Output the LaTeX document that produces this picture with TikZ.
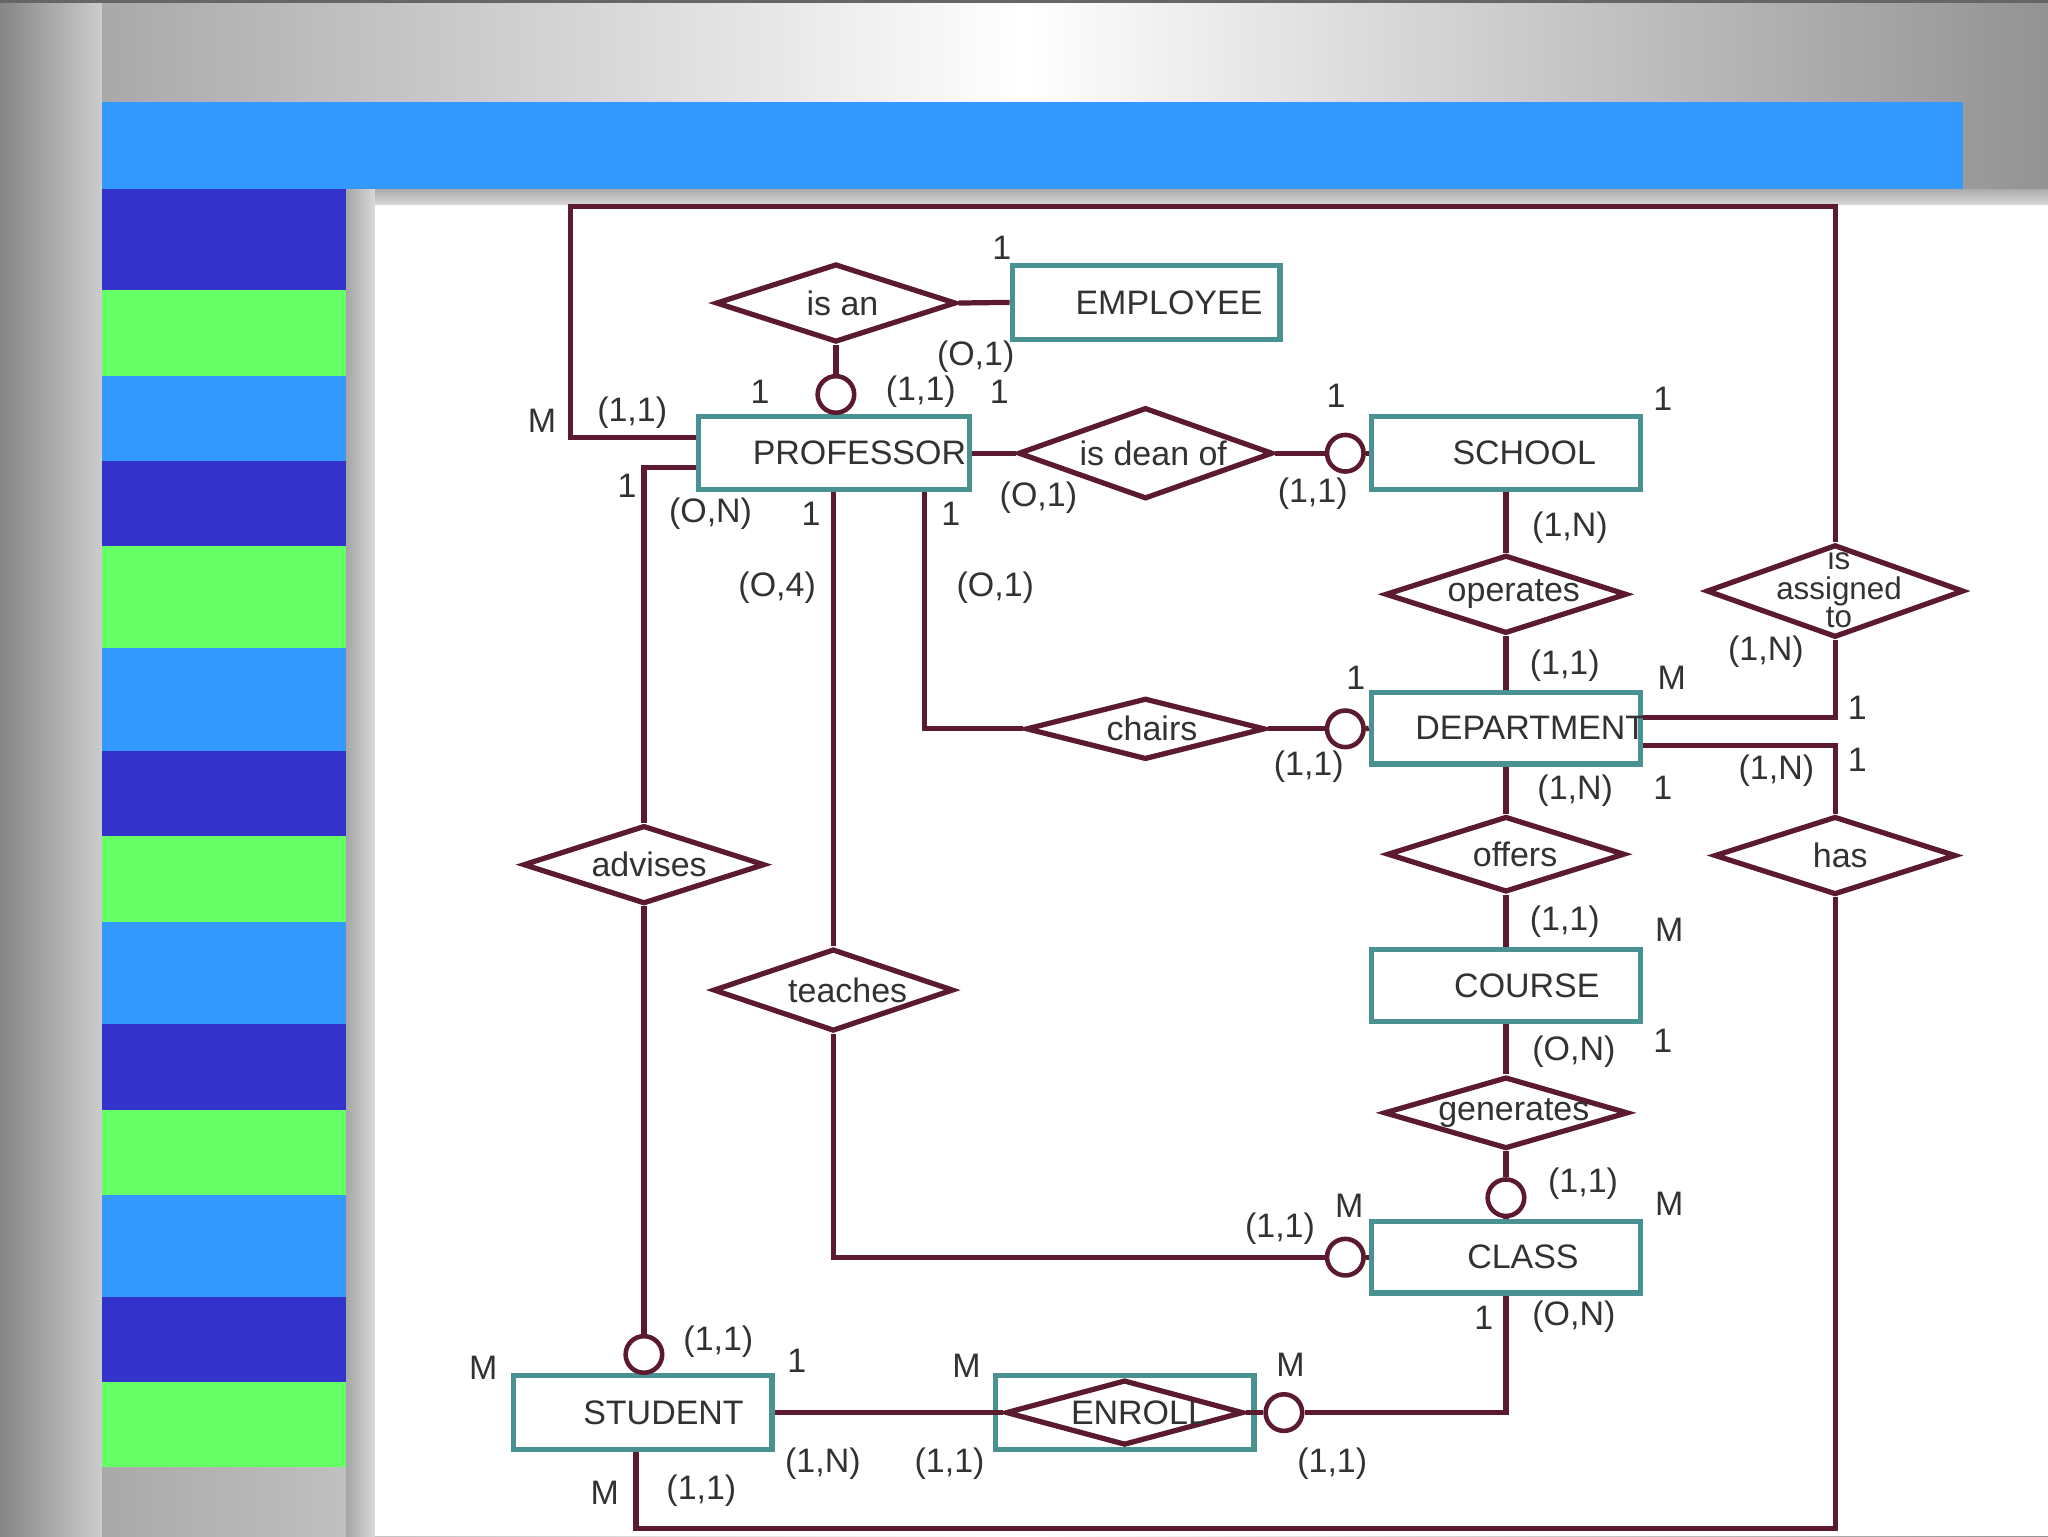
\documentclass[tikz,border=0pt]{standalone}
\usepackage{fontspec}
\setmainfont{Liberation Sans}
\usetikzlibrary{shapes.geometric}
\definecolor{maroon}{RGB}{92,26,46}
\definecolor{tealb}{RGB}{74,146,146}
\definecolor{txt}{RGB}{50,50,50}
\definecolor{dblue}{RGB}{51,51,204}
\definecolor{sgreen}{RGB}{102,255,102}
\definecolor{lblue}{RGB}{51,153,255}
\newcommand{\etext}[2]{\makebox[0pt]{\hspace*{#1pt}#2}}
\begin{document}
\begin{tikzpicture}[x=1pt,y=-1pt,
 every node/.style={font=\fontsize{26}{20}\selectfont, text=txt},
 ent/.style={draw=tealb, line width=4pt, fill=white, rectangle, inner sep=0pt},
 rel/.style={draw=maroon, line width=4pt, fill=white, diamond, inner sep=0pt},
 opt/.style={draw=maroon, line width=3.5pt, fill=white, circle, inner sep=0pt, minimum size=28pt},
 conn/.style={draw=maroon, line width=4pt},
 lab/.style={inner sep=0pt}]
\useasboundingbox (0,0) rectangle (1568,1176);
% background
\shade[left color=gray!75, right color=gray!85, middle color=white] (0,0) rectangle (1568,1176);
\shade[left color=gray!95, right color=gray!40] (0,0) rectangle (78,1176);
\fill[black!60] (0,0) rectangle (1568,2);
\shade[top color=gray!65, bottom color=gray!30] (265,145) rectangle (1568,157);
\shade[left color=gray!70, right color=gray!30] (265,145) rectangle (287,1176);
\fill[lblue] (78,78) rectangle (1503,145);
\fill[dblue] (78,145) rectangle (265,222);
\fill[sgreen] (78,222) rectangle (265,288);
\fill[lblue] (78,288) rectangle (265,353);
\fill[dblue] (78,353) rectangle (265,418);
\fill[sgreen] (78,418) rectangle (265,496);
\fill[lblue] (78,496) rectangle (265,575);
\fill[dblue] (78,575) rectangle (265,640);
\fill[sgreen] (78,640) rectangle (265,706);
\fill[lblue] (78,706) rectangle (265,784);
\fill[dblue] (78,784) rectangle (265,850);
\fill[sgreen] (78,850) rectangle (265,915);
\fill[lblue] (78,915) rectangle (265,993);
\fill[dblue] (78,993) rectangle (265,1058);
\fill[sgreen] (78,1058) rectangle (265,1123);
\fill[white] (287,157) rectangle (1568,1176);

% entities
\node[ent, minimum width=205pt, minimum height=57pt] (emp) at (877.5,231.5) {\etext{35}{EMPLOYEE}};
\node[ent, minimum width=207pt, minimum height=56pt] (prof) at (638.5,347) {\etext{39}{PROFESSOR}};
\node[ent, minimum width=206pt, minimum height=56pt] (sch) at (1153,347) {\etext{28}{SCHOOL}};
\node[ent, minimum width=206pt, minimum height=55pt] (dep) at (1153,557.5) {\etext{38}{DEPARTMENT}};
\node[ent, minimum width=206pt, minimum height=55pt] (crs) at (1153,754.5) {\etext{32}{COURSE}};
\node[ent, minimum width=206pt, minimum height=55pt] (cls) at (1153,962.5) {\etext{26}{CLASS}};
\node[ent, minimum width=198pt, minimum height=57pt] (stu) at (492,1081.5) {\etext{32}{STUDENT}};
\node[ent, minimum width=198pt, minimum height=57pt] (enrbox) at (861,1081.5) {};

% relationships
\node[rel, minimum width=184pt, minimum height=60pt] (isan) at (640,232) {\etext{10}{is an}};
\node[rel, minimum width=195pt, minimum height=70pt] (dean) at (877,347) {\etext{12}{is dean of}};
\node[rel, minimum width=185pt, minimum height=60pt] (oper) at (1153,455) {\etext{12}{operates}};
\node[rel, minimum width=197pt, minimum height=71pt, font=\fontsize{24}{19}\selectfont] (asg) at (1405,452.5) {\etext{6}{\begin{tabular}{@{}c@{}}is\\assigned\\to\end{tabular}}};
\node[rel, minimum width=183pt, minimum height=47pt] (chr) at (877,558) {\etext{10}{chairs}};
\node[rel, minimum width=185pt, minimum height=60pt] (adv) at (493,662) {\etext{8}{advises}};
\node[rel, minimum width=182pt, minimum height=58pt] (off) at (1153,654) {\etext{14}{offers}};
\node[rel, minimum width=185pt, minimum height=60pt] (has) at (1405,655) {\etext{8}{has}};
\node[rel, minimum width=184pt, minimum height=63pt] (tch) at (638,758) {\etext{22}{teaches}};
\node[rel, minimum width=187pt, minimum height=55pt] (gen) at (1153,852) {\etext{12}{generates}};
\node[rel, minimum width=182pt, minimum height=50pt] (enr) at (861,1081.5) {\etext{22}{ENROLL}};

% optionality circles
\node[opt] (c1) at (640,302) {};
\node[opt] (c2) at (1030,347) {};
\node[opt] (c3) at (1030,558) {};
\node[opt] (c4) at (1153,917) {};
\node[opt] (c5) at (1030,962.5) {};
\node[opt] (c6) at (493,1037) {};
\node[opt] (c7) at (983,1081.5) {};

% helper coordinates
\coordinate (frTL) at (437,158);
\coordinate (pCh) at (708,0);
\coordinate (pTe) at (638,0);
\coordinate (botL) at (487,1170);

% connectors
\draw[conn] (isan.east) -- (emp.west);
\draw[conn] (isan.south) -- (c1.north);
\draw[conn] (c1.south) -- (c1.south |- prof.north);
\draw[conn] ([yshift=-18pt]prof.north west) -| (frTL) -| (asg.north);
\draw[conn] (asg.south) |- ([yshift=8pt]dep.east);
\draw[conn] ([yshift=-13.5pt]dep.east) -| (has.north);
\draw[conn] (has.south) |- (botL) -- (botL |- stu.south);
\draw[conn] (prof.east) -- (dean.west);
\draw[conn] (dean.east) -- (c2.west);
\draw[conn] (c2.east) -- (sch.west);
\draw[conn] (sch.south) -- (oper.north);
\draw[conn] (oper.south) -- (dep.north);
\draw[conn] (prof.south -| pCh) |- (chr.west);
\draw[conn] (chr.east) -- (c3.west);
\draw[conn] (c3.east) -- (dep.west);
\draw[conn] (dep.south) -- (off.north);
\draw[conn] (off.south) -- (crs.north);
\draw[conn] (crs.south) -- (gen.north);
\draw[conn] (gen.south) -- (c4.north);
\draw[conn] (c4.south) -- (cls.north);
\draw[conn] (prof.south -| pTe) -- (tch.north);
\draw[conn] (tch.south) |- (c5.west);
\draw[conn] (c5.east) -- (cls.west);
\draw[conn] ([yshift=-41pt]prof.north west) -| (adv.north);
\draw[conn] (adv.south) -- (c6.north);
\draw[conn] (c6.south) -- (c6.south |- stu.north);
\draw[conn] (stu.east) -- (enr.west);
\draw[conn] (enr.east) -- (c7.west);
\draw[conn] (c7.east) -| (cls.south);

% cardinality labels
\node[lab] at (767,190) {1};
\node[lab] at (747,273) {(O,1)};
\node[lab] at (582,300) {1};
\node[lab] at (705,300) {(1,1)};
\node[lab] at (765,300) {1};
\node[lab] at (415,322) {M};
\node[lab] at (484,316) {(1,1)};
\node[lab] at (1023,303) {1};
\node[lab] at (1273,305) {1};
\node[lab] at (480,372) {1};
\node[lab] at (544,393) {(O,N)};
\node[lab] at (621,393) {1};
\node[lab] at (728,393) {1};
\node[lab] at (795,381) {(O,1)};
\node[lab] at (1005,378) {(1,1)};
\node[lab] at (1202,404) {(1,N)};
\node[lab] at (595,450) {(O,4)};
\node[lab] at (762,450) {(O,1)};
\node[lab] at (1352,499) {(1,N)};
\node[lab] at (1038,519) {1};
\node[lab] at (1198,510) {(1,1)};
\node[lab] at (1280,519) {M};
\node[lab] at (1422,542) {1};
\node[lab] at (1002,587) {(1,1)};
\node[lab] at (1206,605) {(1,N)};
\node[lab] at (1273,603) {1};
\node[lab] at (1360,590) {(1,N)};
\node[lab] at (1422,582) {1};
\node[lab] at (1198,706) {(1,1)};
\node[lab] at (1278,712) {M};
\node[lab] at (1205,805) {(O,N)};
\node[lab] at (1273,797) {1};
\node[lab] at (1212,906) {(1,1)};
\node[lab] at (1033,923) {M};
\node[lab] at (1278,922) {M};
\node[lab] at (980,941) {(1,1)};
\node[lab] at (1136,1009) {1};
\node[lab] at (1205,1008) {(O,N)};
\node[lab] at (550,1027) {(1,1)};
\node[lab] at (610,1042) {1};
\node[lab] at (370,1047) {M};
\node[lab] at (740,1046) {M};
\node[lab] at (988,1045) {M};
\node[lab] at (630,1121) {(1,N)};
\node[lab] at (727,1121) {(1,1)};
\node[lab] at (1020,1121) {(1,1)};
\node[lab] at (463,1143) {M};
\node[lab] at (537,1141) {(1,1)};
\end{tikzpicture}
\end{document}
